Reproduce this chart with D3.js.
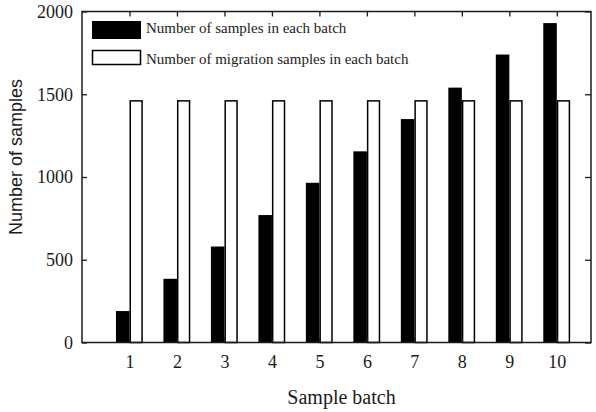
<!DOCTYPE html>
<html>
<head>
<meta charset="utf-8">
<script src="https://cdn.jsdelivr.net/npm/d3@7"></script>
<style>
  html, body { margin: 0; padding: 0; background: #fff; }
  svg { display: block; }
  .serif { font-family: "Liberation Serif", "Times New Roman", serif; }
  .sans { font-family: "Liberation Sans", Arial, sans-serif; }
</style>
</head>
<body>
<svg id="chart" width="596" height="412"></svg>
<script>
// Sample batches and the two series plotted per batch
const categories = [1, 2, 3, 4, 5, 6, 7, 8, 9, 10];
const batchSamples = [190, 385, 580, 770, 965, 1155, 1350, 1540, 1740, 1930];
const migrationSamples = [1460, 1460, 1460, 1460, 1460, 1460, 1460, 1460, 1460, 1460];
const yTicks = [0, 500, 1000, 1500, 2000];
const seriesNames = ["Number of samples in each batch", "Number of migration samples in each batch"];

const svg = d3.select("#chart");
const ink = "#1b1b1b";

const plot = { left: 82, right: 591, top: 11.5, bottom: 342.5 };

const x = d3.scaleLinear().domain([0, 10.72]).range([plot.left, plot.right]);
const y = d3.scaleLinear().domain([0, 2000]).range([plot.bottom, plot.top]);

const barW = 0.285; // bar width in batch units

// Black bars: samples per batch (left of each batch position)
svg.append("g").selectAll("rect")
  .data(categories)
  .join("rect")
  .attr("x", (d) => x(d - barW))
  .attr("y", (d, i) => y(batchSamples[i]))
  .attr("width", x(barW) - x(0))
  .attr("height", (d, i) => y(0) - y(batchSamples[i]))
  .attr("fill", "#000");

// White outlined bars: migration samples per batch (right of each batch position)
svg.append("g").selectAll("rect")
  .data(categories)
  .join("rect")
  .attr("x", (d) => x(d) + 0.75)
  .attr("y", (d, i) => y(migrationSamples[i]))
  .attr("width", x(barW - 0.02) - x(0) - 0.75)
  .attr("height", (d, i) => y(0) - y(migrationSamples[i]))
  .attr("fill", "#fff")
  .attr("stroke", "#000")
  .attr("stroke-width", 1.5);

// Axes with inward ticks on all four sides
function styleAxis(g) {
  g.select(".domain").remove();
  g.selectAll(".tick line").attr("stroke", ink).attr("stroke-width", 1.3);
  g.selectAll(".tick text").attr("fill", ink);
}

svg.append("g")
  .attr("transform", `translate(${plot.left},0)`)
  .call(d3.axisLeft(y).tickValues(yTicks).tickFormat(d3.format("d"))
    .tickSizeInner(-5).tickSizeOuter(0).tickPadding(9))
  .call(styleAxis)
  .call((g) => g.selectAll(".tick text").attr("class", "serif").attr("font-size", 18));

svg.append("g")
  .attr("transform", `translate(${plot.right},0)`)
  .call(d3.axisRight(y).tickValues(yTicks).tickSizeInner(-6).tickSizeOuter(0).tickFormat(""))
  .call(styleAxis);

svg.append("g")
  .attr("transform", `translate(0,${plot.bottom})`)
  .call(d3.axisBottom(x).tickValues(categories).tickFormat(d3.format("d"))
    .tickSizeInner(-5).tickSizeOuter(0).tickPadding(13))
  .call(styleAxis)
  .call((g) => g.selectAll(".tick text").attr("class", "serif").attr("font-size", 18));

svg.append("g")
  .attr("transform", `translate(0,${plot.top})`)
  .call(d3.axisTop(x).tickValues(categories).tickSizeInner(-5).tickSizeOuter(0).tickFormat(""))
  .call(styleAxis);

// Plot frame
svg.append("rect")
  .attr("x", plot.left)
  .attr("y", plot.top)
  .attr("width", plot.right - plot.left)
  .attr("height", plot.bottom - plot.top)
  .attr("fill", "none")
  .attr("stroke", ink)
  .attr("stroke-width", 1.5);

// Axis titles
svg.append("text")
  .attr("class", "serif")
  .attr("x", (plot.left + plot.right) / 2 + 5)
  .attr("y", 404)
  .attr("text-anchor", "middle")
  .attr("font-size", 20)
  .attr("fill", ink)
  .text("Sample batch");

svg.append("text")
  .attr("class", "sans")
  .attr("transform", "translate(22,157) rotate(-90)")
  .attr("text-anchor", "middle")
  .attr("font-size", 18)
  .attr("fill", ink)
  .text("Number of samples");

// Legend
const legend = svg.append("g");
legend.append("rect")
  .attr("x", 92).attr("y", 21).attr("width", 49).attr("height", 18)
  .attr("fill", "#000");
legend.append("rect")
  .attr("x", 92.5).attr("y", 50.5).attr("width", 48).attr("height", 14)
  .attr("fill", "#fff").attr("stroke", "#000").attr("stroke-width", 1.5);
legend.append("text")
  .attr("class", "serif").attr("x", 146).attr("y", 33)
  .attr("font-size", 15).attr("fill", ink)
  .text(seriesNames[0]);
legend.append("text")
  .attr("class", "serif").attr("x", 146).attr("y", 64)
  .attr("font-size", 15).attr("fill", ink)
  .text(seriesNames[1]);
</script>
</body>
</html>
